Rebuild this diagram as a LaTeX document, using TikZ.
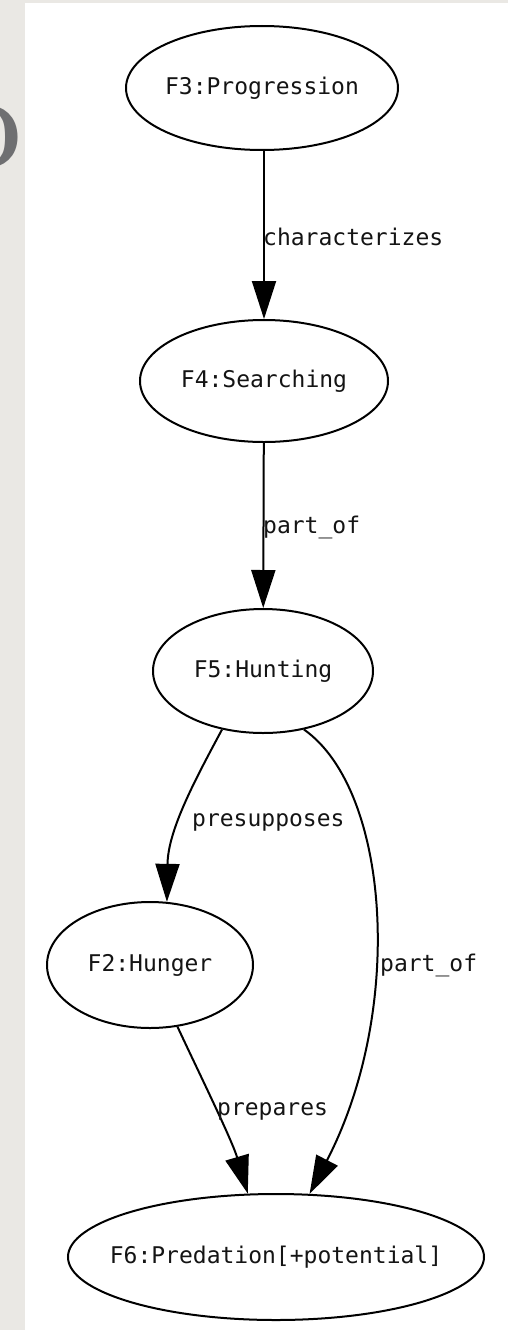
\documentclass[tikz,border=0pt]{standalone}
\usepackage{fontspec}
\newfontfamily\dvmono{DejaVu Sans Mono}
\usetikzlibrary{arrows.meta,shapes.geometric}
\definecolor{paper}{HTML}{EAE8E4}
\definecolor{glyphgray}{HTML}{6F6F71}
\definecolor{inkgray}{HTML}{141414}
\newcommand\graphfont{\dvmono\fontsize{23}{28}\selectfont}
% zero-width box so the ellipse size is set only by minimum width/height
\newcommand\framelabel[1]{\makebox[0pt][c]{#1}}
\begin{document}
\begin{tikzpicture}[x=1pt,y=-1pt,
  frame/.style={draw=black, line width=2pt, ellipse, inner sep=0pt,
                text=inkgray, font=\graphfont},
  link/.style={draw=black, line width=2pt,
               -{Triangle[length=38pt,width=24pt]}},
  tag/.style={inner sep=0pt, anchor=west, text=inkgray, font=\graphfont}]

% page and panel
\useasboundingbox (0,0) rectangle (508,1330);
\fill[paper] (0,0) rectangle (508,1330);
\fill[white] (25,3) rectangle (508,1330);

% cropped drop capital at the left margin
\begin{scope}
  \clip (0,0) rectangle (25,1330);
  \node[anchor=base east, inner sep=0pt, text=glyphgray,
        font=\fontsize{92}{92}\selectfont\bfseries] (dropcap) at (24,168) {D};
\end{scope}

% frames
\node[frame, minimum width=272pt, minimum height=124pt] (F3) at (262,88)  {\framelabel{F3:Progression}};
\node[frame, minimum width=248pt, minimum height=122pt] (F4) at (264,381) {\framelabel{F4:Searching}};
\node[frame, minimum width=220pt, minimum height=124pt] (F5) at (263,671) {\framelabel{F5:Hunting}};
\node[frame, minimum width=206pt, minimum height=126pt] (F2) at (150,965) {\framelabel{F2:Hunger}};
\node[frame, minimum width=416pt, minimum height=126pt] (F6) at (276,1257) {\framelabel{F6:Predation[+potential]}};

% relations
\draw[link] (F3.south -| F4.north) -- (F4.north);
\draw[link] (F4) -- (F5);
\draw[link] (F5.235) .. controls (195,780) and (168,830) .. (F2.75);
\draw[link] (F5.305) .. controls (390,790) and (405,1010) .. (F6.62);
\draw[link] (F2.294) .. controls (200,1075) and (232,1140) .. (F6.114);

% relation labels
\node[tag] (l1) at (263,237)  {characterizes};
\node[tag] (l2) at (263,527)  {part\_of};
\node[tag] (l3) at (192,822)  {presupposes};
\node[tag] (l4) at (380,965)  {part\_of};
\node[tag] (l5) at (217,1111) {prepares};
\end{tikzpicture}
\end{document}
